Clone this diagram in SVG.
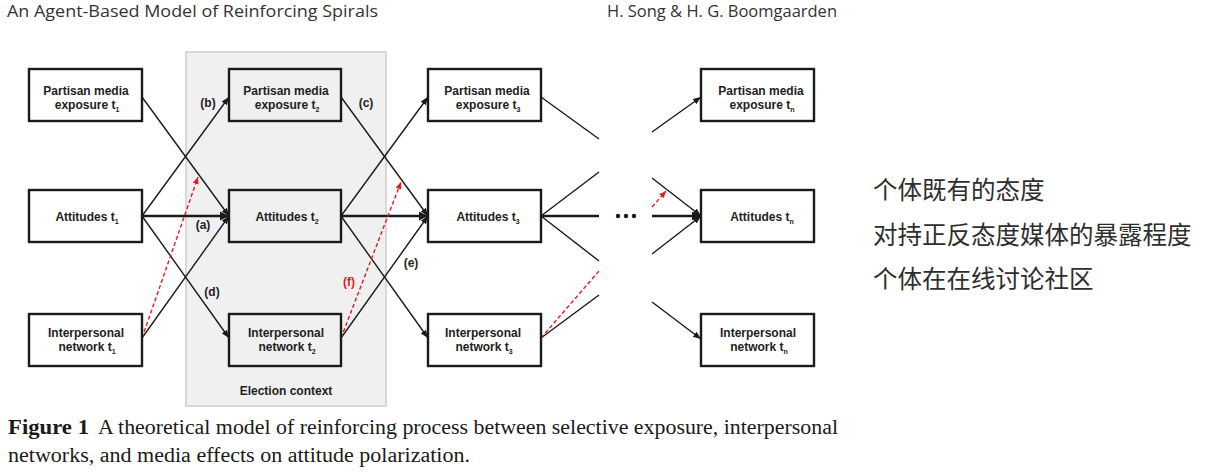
<svg xmlns="http://www.w3.org/2000/svg" width="1215" height="475" viewBox="0 0 1215 475">
<style>
.hdr{font-family:"Open Sans","Noto Sans",sans-serif;font-size:16px;fill:#333}
.box{fill:#fff;stroke:#1a1a1a;stroke-width:2.4}
.box2{fill:none;stroke:#1a1a1a;stroke-width:2.4}
.bt{font-family:"Liberation Sans",Arial,sans-serif;font-weight:bold;font-size:12px;fill:#222;text-anchor:middle}
.sub{font-size:7px}
.ln{stroke:#1a1a1a;stroke-width:1.4;fill:none}
.thick{stroke:#1a1a1a;stroke-width:2.4;fill:none}
.red{stroke:#e8191b;stroke-width:1.4;stroke-dasharray:4 2.5;fill:none}
.lab{font-family:"Liberation Sans",Arial,sans-serif;font-weight:bold;font-size:12px;fill:#222;text-anchor:middle}
.labr{fill:#e8191b}
.cap{font-family:"Liberation Serif","Times New Roman",serif;font-size:20.5px;fill:#1a1a1a}
.cjk{font-family:"Noto Sans CJK SC",sans-serif;font-size:24.5px;fill:#2e2e2e}
</style>
<defs>
<marker id="ah" markerUnits="userSpaceOnUse" markerWidth="9" markerHeight="8" refX="8" refY="4" orient="auto">
<path d="M0,0.8 L8,4 L0,7.2 Z" fill="#1a1a1a"/>
</marker>
<marker id="ahb" markerUnits="userSpaceOnUse" markerWidth="10" markerHeight="10" refX="9" refY="5" orient="auto">
<path d="M0,0.5 L9,5 L0,9.5 Z" fill="#1a1a1a"/>
</marker>
<marker id="ahr" markerUnits="userSpaceOnUse" markerWidth="8" markerHeight="7" refX="7" refY="3.5" orient="auto">
<path d="M0,0.5 L7,3.5 L0,6.5 Z" fill="#e8191b"/>
</marker>
</defs>

<text class="hdr" x="7" y="17" textLength="371" lengthAdjust="spacingAndGlyphs">An Agent-Based Model of Reinforcing Spirals</text>
<text class="hdr" x="607" y="17" textLength="230" lengthAdjust="spacingAndGlyphs">H. Song &amp; H. G. Boomgaarden</text>

<g id="election-context">
<rect x="186" y="52" width="200" height="354" fill="#f0f0f0" stroke="#d8d8d8" stroke-width="2"/>
<text class="bt" x="286" y="395">Election context</text>
</g>

<g id="connectors">
<line class="ln" x1="142" y1="97" x2="229" y2="216" marker-end="url(#ah)"/>
<line class="ln" x1="142" y1="216" x2="229" y2="97" marker-end="url(#ah)"/>
<line class="thick" x1="142" y1="216" x2="229" y2="216" marker-end="url(#ahb)"/>
<line class="ln" x1="142" y1="216" x2="229" y2="338" marker-end="url(#ah)"/>
<line class="ln" x1="142" y1="338" x2="229" y2="216" marker-end="url(#ah)"/>
<line class="red" x1="142" y1="338" x2="198" y2="177" marker-end="url(#ahr)"/>
<line class="ln" x1="341" y1="97" x2="428" y2="216" marker-end="url(#ah)"/>
<line class="ln" x1="341" y1="216" x2="428" y2="97" marker-end="url(#ah)"/>
<line class="thick" x1="341" y1="216" x2="428" y2="216" marker-end="url(#ahb)"/>
<line class="ln" x1="341" y1="216" x2="428" y2="338" marker-end="url(#ah)"/>
<line class="ln" x1="341" y1="338" x2="428" y2="216" marker-end="url(#ah)"/>
<line class="red" x1="341" y1="338" x2="401" y2="182" marker-end="url(#ahr)"/>
<line class="ln" x1="541" y1="97" x2="599" y2="139"/>
<line class="ln" x1="541" y1="216" x2="599" y2="172"/>
<line class="thick" x1="541" y1="216" x2="599" y2="216"/>
<line class="ln" x1="541" y1="216" x2="599" y2="261"/>
<line class="ln" x1="541" y1="338" x2="599" y2="295"/>
<line class="red" x1="541" y1="338" x2="599" y2="271"/>
<line class="ln" x1="652" y1="132" x2="701" y2="97" marker-end="url(#ah)"/>
<line class="ln" x1="652" y1="178" x2="701" y2="216" marker-end="url(#ah)"/>
<line class="red" x1="652" y1="207" x2="666" y2="191" marker-end="url(#ahr)"/>
<line class="thick" x1="652" y1="216" x2="701" y2="216" marker-end="url(#ahb)"/>
<line class="ln" x1="652" y1="254" x2="701" y2="216" marker-end="url(#ah)"/>
<line class="ln" x1="652" y1="302" x2="701" y2="339" marker-end="url(#ah)"/>
<circle cx="618" cy="216" r="2.2" fill="#1a1a1a"/>
<circle cx="626" cy="216" r="2.2" fill="#1a1a1a"/>
<circle cx="634" cy="216" r="2.2" fill="#1a1a1a"/>
<text class="lab" x="208" y="107">(b)</text>
<text class="lab" x="203" y="229">(a)</text>
<text class="lab" x="212" y="296">(d)</text>
<text class="lab" x="366" y="107">(c)</text>
<text class="lab" x="411" y="267">(e)</text>
<text class="lab labr" x="349" y="286">(f)</text>
</g>

<g id="pme-t1"><rect class="box" x="29" y="69" width="113" height="52"/>
<text class="bt" x="86" y="95">Partisan media</text><text class="bt" x="87" y="109">exposure t<tspan class="sub" dy="3">1</tspan></text></g>
<g id="att-t1"><rect class="box" x="29" y="190" width="113" height="52"/>
<text class="bt" x="87" y="221">Attitudes t<tspan class="sub" dy="3">1</tspan></text></g>
<g id="net-t1"><rect class="box" x="29" y="314" width="113" height="52"/>
<text class="bt" x="86" y="337">Interpersonal</text><text class="bt" x="87" y="351">network t<tspan class="sub" dy="3">1</tspan></text></g>

<g id="pme-t2"><rect class="box2" x="229" y="69" width="112" height="52"/>
<text class="bt" x="286" y="95">Partisan media</text><text class="bt" x="287" y="109">exposure t<tspan class="sub" dy="3">2</tspan></text></g>
<g id="att-t2"><rect class="box2" x="229" y="190" width="112" height="52"/>
<text class="bt" x="287" y="221">Attitudes t<tspan class="sub" dy="3">2</tspan></text></g>
<g id="net-t2"><rect class="box2" x="229" y="314" width="112" height="52"/>
<text class="bt" x="286" y="337">Interpersonal</text><text class="bt" x="287" y="351">network t<tspan class="sub" dy="3">2</tspan></text></g>

<g id="pme-t3"><rect class="box" x="428" y="69" width="113" height="52"/>
<text class="bt" x="487" y="95">Partisan media</text><text class="bt" x="488" y="109">exposure t<tspan class="sub" dy="3">3</tspan></text></g>
<g id="att-t3"><rect class="box" x="428" y="190" width="113" height="52"/>
<text class="bt" x="488" y="221">Attitudes t<tspan class="sub" dy="3">3</tspan></text></g>
<g id="net-t3"><rect class="box" x="428" y="314" width="113" height="52"/>
<text class="bt" x="483" y="337">Interpersonal</text><text class="bt" x="484" y="351">network t<tspan class="sub" dy="3">3</tspan></text></g>

<g id="pme-tn"><rect class="box" x="701" y="69" width="113" height="52"/>
<text class="bt" x="761" y="95">Partisan media</text><text class="bt" x="762" y="109">exposure t<tspan class="sub" dy="3">n</tspan></text></g>
<g id="att-tn"><rect class="box" x="701" y="190" width="113" height="52"/>
<text class="bt" x="762" y="221">Attitudes t<tspan class="sub" dy="3">n</tspan></text></g>
<g id="net-tn"><rect class="box" x="701" y="314" width="113" height="52"/>
<text class="bt" x="758" y="337">Interpersonal</text><text class="bt" x="759" y="351">network t<tspan class="sub" dy="3">n</tspan></text></g>

<text class="cjk" x="873" y="199">个体既有的态度</text>
<text class="cjk" x="873" y="244">对持正反态度媒体的暴露程度</text>
<text class="cjk" x="873" y="288">个体在在线讨论社区</text>

<text class="cap" x="8" y="434" font-weight="bold" textLength="81" lengthAdjust="spacingAndGlyphs">Figure 1</text>
<text class="cap" x="98" y="434" textLength="740" lengthAdjust="spacingAndGlyphs">A theoretical model of reinforcing process between selective exposure, interpersonal</text>
<text class="cap" x="8" y="462" textLength="462" lengthAdjust="spacingAndGlyphs">networks, and media effects on attitude polarization.</text>
</svg>
